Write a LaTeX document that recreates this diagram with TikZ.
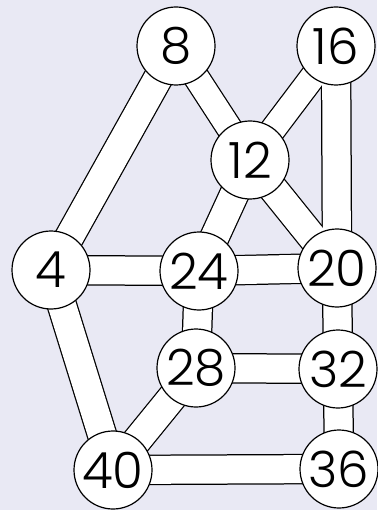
\documentclass[tikz,border=0pt]{standalone}
\usepackage{fontspec}
\setmainfont{Poppins}[UprightFont=* Light]
\definecolor{bg}{RGB}{233,233,244}
\begin{document}
\begin{tikzpicture}[x=1pt,y=-1pt,
  num/.style={circle,draw=black,line width=1.2pt,fill=white,minimum size=78pt,inner sep=0pt,
    font=\fontsize{50}{50}\selectfont},
  bandout/.style={line width=30.5pt,draw=black},
  bandin/.style={line width=28pt,draw=white},
  thinout/.style={line width=27pt,draw=black},
  thinin/.style={line width=24.5pt,draw=white}]
\useasboundingbox (0,0) rectangle (377,510);
\fill[bg] (0,0) rectangle (377,510);
\coordinate (c8) at (176,46);
\coordinate (c16) at (336,46);
\coordinate (c12) at (250,160);
\coordinate (c4) at (51,270);
\coordinate (c24) at (199,271);
\coordinate (c20) at (337,268);
\coordinate (c28) at (196,368);
\coordinate (c32) at (338,369);
\coordinate (c40) at (113,470);
\coordinate (c36) at (339,469);
\def\edges{c8/c4,c16/c20,c12/c24,c12/c20,c4/c24,c24/c20,c4/c40,c24/c28,c20/c32,c28/c32,c28/c40,c32/c36,c40/c36}
\def\thinedges{c8/c12,c16/c12}
\foreach \a/\b in \edges {\draw[bandout] (\a) -- (\b);}
\foreach \a/\b in \thinedges {\draw[thinout] (\a) -- (\b);}
\foreach \a/\b in \edges {\draw[bandin] (\a) -- (\b);}
\foreach \a/\b in \thinedges {\draw[thinin] (\a) -- (\b);}
\node[num] (n8) at (c8) {8};
\node[num] (n16) at (c16) {16};
\node[num] (n12) at (c12) {12};
\node[num] (n4) at (c4) {4};
\node[num] (n24) at (c24) {24};
\node[num] (n20) at (c20) {20};
\node[num] (n28) at (c28) {28};
\node[num] (n32) at (c32) {32};
\node[num] (n40) at (c40) {40};
\node[num] (n36) at (c36) {36};
\end{tikzpicture}
\end{document}
